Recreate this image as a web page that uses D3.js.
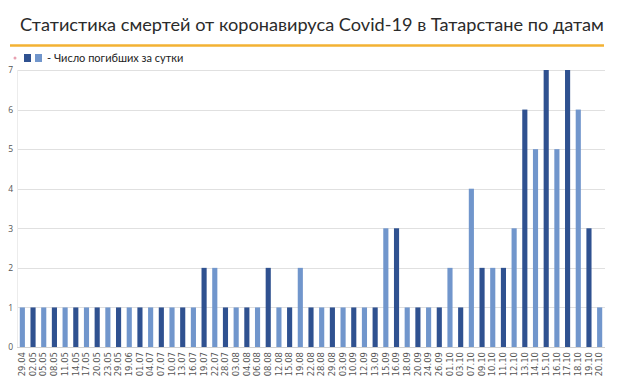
<!DOCTYPE html>
<html><head><meta charset="utf-8">
<script src="https://cdn.jsdelivr.net/npm/d3@7"></script>
<style>body{margin:0;background:#fff;}svg{display:block;font-family:"Open Sans","Noto Sans",sans-serif;}</style>
</head><body>
<script>
const title = "Статистика смертей от коронавируса Covid-19 в Татарстане по датам";
const legendLabel = "- Число погибших за сутки";
const dates = ["29.04","02.05","05.05","08.05","11.05","14.05","17.05","20.05","23.05","29.05","19.06","01.07","04.07","07.07","10.07","13.07","16.07","19.07","22.07","28.07","03.08","04.08","06.08","08.08","12.08","15.08","19.08","22.08","28.08","29.08","03.09","10.09","12.09","13.09","15.09","16.09","18.09","20.09","24.09","26.09","01.10","03.10","07.10","09.10","10.10","11.10","12.10","13.10","14.10","15.10","16.10","17.10","18.10","19.10","20.10"];
const deaths = [1,1,1,1,1,1,1,1,1,1,1,1,1,1,1,1,1,2,2,1,1,1,1,2,1,1,2,1,1,1,1,1,1,1,3,3,1,1,1,1,2,1,4,2,2,2,3,6,5,7,5,7,6,3,1];
const yTicks = [0,1,2,3,4,5,6,7];
const colors = ["#7196cc","#2f5190"];

const W = 620, H = 387;
const svg = d3.select("body").append("svg").attr("width", W).attr("height", H);

const t = svg.append("text").attr("x", 312).attr("y", 31).attr("text-anchor","middle")
  .attr("font-family","Lato, 'Noto Sans', sans-serif")
  .attr("font-size", 20).attr("fill","#2b2b2b").text(title);
const tw = t.node().getComputedTextLength();
if (tw > 0) t.attr("font-size", 20 * 584 / tw);

svg.append("line").attr("x1",10).attr("x2",604).attr("y1",45.5).attr("y2",45.5)
  .attr("stroke","#f3b233").attr("stroke-width",2.5);

// legend
svg.append("circle").attr("cx",15).attr("cy",58).attr("r",1.5).attr("fill","#e8a0b0");
svg.append("rect").attr("x",24).attr("y",54).attr("width",7).attr("height",8).attr("fill",colors[1]);
svg.append("rect").attr("x",35).attr("y",54).attr("width",7).attr("height",8).attr("fill",colors[0]);
svg.append("text").attr("x",47).attr("y",62).attr("font-size",11)
  .attr("font-family","Lato, 'Noto Sans', sans-serif").attr("fill","#222").text(legendLabel);

const x = d3.scaleBand().domain(dates).range([17,605]).paddingInner(0.52).paddingOuter(0.26);
const y = d3.scaleLinear().domain([0,7]).range([347,70]);

// gridlines
svg.append("g").selectAll("line").data(yTicks).join("line")
  .attr("x1",17).attr("x2",605).attr("y1",d=>Math.round(y(d))+0.5).attr("y2",d=>Math.round(y(d))+0.5)
  .attr("stroke",d=>d===0?"#d0d0d0":"#e0e0e0").attr("stroke-width",1);
svg.append("line").attr("x1",17.5).attr("x2",17.5).attr("y1",70).attr("y2",347).attr("stroke","#ececec");

// y labels
const yAxis = svg.append("g").attr("transform","translate(13,0)")
  .call(d3.axisLeft(y).tickValues(yTicks).tickSize(0).tickPadding(0).tickFormat(d3.format("d")));
yAxis.select(".domain").remove();
yAxis.selectAll("text").attr("font-size",8.5).attr("fill","#555").attr("font-family","'Open Sans',sans-serif");

// bars
svg.append("g").selectAll("rect").data(dates).join("rect")
  .attr("x",d=>x(d)).attr("width",x.bandwidth())
  .attr("y",(d,i)=>y(deaths[i])).attr("height",(d,i)=>y(0)-y(deaths[i]))
  .attr("fill",(d,i)=>colors[i%2]);

// x labels
const xAxis = svg.append("g").attr("transform","translate(0,350)")
  .call(d3.axisBottom(x).tickSize(0).tickPadding(0));
xAxis.select(".domain").remove();
xAxis.selectAll("text").attr("font-size",8.5).attr("fill","#555")
  .attr("font-family","'DejaVu Sans',sans-serif")
  .attr("transform","rotate(-90)").attr("text-anchor","end").attr("dy","0.32em").attr("x",-2).attr("y",0);
</script>
</body></html>
